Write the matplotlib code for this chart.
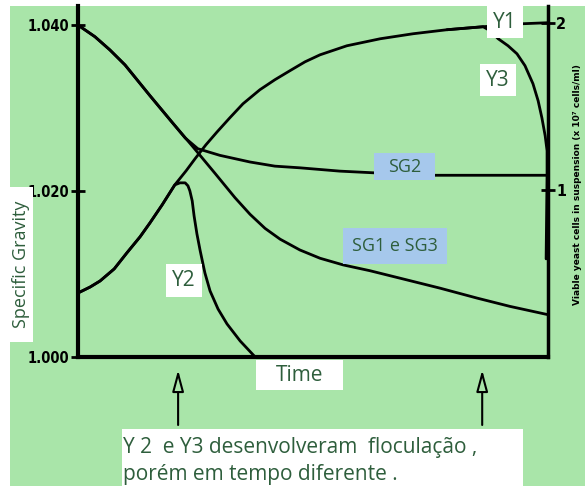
import matplotlib
matplotlib.use("Agg")
import matplotlib.pyplot as plt
from matplotlib.patches import Rectangle

# Time in arbitrary units (0-100), specific gravity on left, yeast cells on right
sg1_t = [0, 3.6, 6.8, 10.0, 15.3, 20.0, 24.5, 29.2, 33.4, 36.6, 39.8, 43.0, 47.2,
         51.5, 56.4, 62.1, 68.5, 77.0, 84.9, 91.9, 100]
sg1_v = [1.0400, 1.0386, 1.0370, 1.0352, 1.0315, 1.0283, 1.0253, 1.0221, 1.0192,
         1.0172, 1.0155, 1.0142, 1.0129, 1.0119, 1.0111, 1.0104, 1.0095, 1.0083,
         1.0071, 1.0061, 1.0051]

sg2_t = [0, 3.6, 6.8, 10.0, 15.3, 20.0, 22.8, 25.5, 30.2, 36.6, 41.9, 47.2, 55.7,
         62.8, 76.0, 100]
sg2_v = [1.0400, 1.0386, 1.0370, 1.0352, 1.0315, 1.0283, 1.0264, 1.0251, 1.0243,
         1.0235, 1.0230, 1.0228, 1.0224, 1.0222, 1.0219, 1.0219]

y1_t = [0, 2.6, 4.7, 7.7, 10.4, 13.2, 15.3, 17.9, 20.6, 23.0, 24.9, 27.2, 29.6,
        32.3, 35.1, 38.7, 41.9, 45.1, 48.3, 51.5, 57.2, 64.3, 71.3, 78.5, 86.2,
        94.7, 100]
y1_v = [0.383, 0.419, 0.455, 0.527, 0.623, 0.719, 0.802, 0.910, 1.030, 1.114,
        1.186, 1.269, 1.347, 1.431, 1.515, 1.599, 1.659, 1.713, 1.766, 1.808,
        1.862, 1.904, 1.934, 1.958, 1.976, 1.994, 2.000]

y2_t = [0, 2.6, 4.7, 7.7, 10.4, 13.2, 15.3, 17.9, 20.6, 21.7, 22.8, 23.4, 23.8,
        24.3, 24.7, 25.3, 26.0, 27.0, 28.1, 29.8, 31.7, 34.5, 37.7]
y2_v = [0.383, 0.419, 0.455, 0.527, 0.623, 0.719, 0.802, 0.910, 1.030, 1.042,
        1.042, 1.024, 0.994, 0.934, 0.844, 0.737, 0.635, 0.503, 0.395, 0.287,
        0.198, 0.096, 0.0]

y3_t = [78.5, 86.2, 87.7, 89.4, 91.5, 93.4, 95.1, 96.8, 97.9, 98.7, 99.4, 99.8,
        99.8, 99.6]
y3_v = [1.958, 1.976, 1.952, 1.904, 1.862, 1.814, 1.743, 1.635, 1.533, 1.431,
        1.323, 1.234, 1.096, 0.587]

sg_ticks = [1.000, 1.020, 1.040]
sg_labels = ["1.000", "1.020", "1.040"]
cell_ticks = [1, 2]
flocc_times = [21.3, 86.0]

GREEN = "#a9e5a9"
BLUE = "#a6c8ec"
TXT = "#2e5e3c"
W, H = 585, 486
FONT = ["Open Sans", "DejaVu Sans"]


def fx(x):
    return x / W


def fy(y):
    return 1 - y / H


fig = plt.figure(figsize=(W / 100, H / 100), dpi=100)
fig.patch.set_facecolor("white")
fig.add_artist(Rectangle((fx(10), 0), 1 - fx(10), fy(6), transform=fig.transFigure,
                         facecolor=GREEN, edgecolor="none", zorder=-5))

ax = fig.add_axes([fx(78), fy(357), fx(548) - fx(78), fy(6) - fy(357)])
ax.set_facecolor("none")
ax.set_xlim(0, 100)
ax.set_ylim(1.000, 1.0423)
ax2 = ax.twinx()
ax2.set_ylim(0, 2.10)

for s in ["top", "right"]:
    ax.spines[s].set_visible(False)
for s in ["top", "left", "bottom"]:
    ax2.spines[s].set_visible(False)
ax.spines["left"].set_linewidth(3)
ax.spines["bottom"].set_linewidth(3)
ax2.spines["right"].set_linewidth(2.5)

ax.set_xticks([])
ax.set_yticks(sg_ticks)
ax.set_yticklabels(sg_labels, fontsize=10.5, fontweight="bold", fontstretch="condensed")
ax.tick_params(axis="y", direction="inout", length=10, width=2, pad=1)
ax2.set_yticks(cell_ticks)
ax2.set_yticklabels([str(c) for c in cell_ticks], fontsize=11.5, fontweight="bold",
                    fontstretch="condensed")
ax2.tick_params(axis="y", direction="inout", length=10, width=2, pad=1)

style = dict(color="black", lw=2.0, clip_on=False, solid_joinstyle="round",
             solid_capstyle="round")
ax.plot(sg1_t, sg1_v, **style)
ax.plot(sg2_t, sg2_v, **style)
ax2.plot(y1_t, y1_v, **style)
ax2.plot(y2_t, y2_v, **style)
ax2.plot(y3_t, y3_v, **style)

# arrows marking flocculation times
for t in flocc_times:
    ax.annotate("", xy=(t, H - 370), xytext=(t, H - 425),
                xycoords=("data", "figure pixels"), textcoords=("data", "figure pixels"),
                arrowprops=dict(arrowstyle="-|>,head_length=1.3,head_width=0.35",
                                fc=GREEN, ec="black", lw=1.5, mutation_scale=10,
                                shrinkA=0, shrinkB=0),
                annotation_clip=False)


def box_label(x0, y0, x1, y1, text, color="white", size=15, rot=0):
    fig.add_artist(Rectangle((fx(x0), fy(y1)), fx(x1) - fx(x0), fy(y0) - fy(y1),
                             transform=fig.transFigure, facecolor=color,
                             edgecolor="none", zorder=2))
    fig.text(fx((x0 + x1) / 2), fy((y0 + y1) / 2), text, ha="center", va="center",
             fontsize=size, color=TXT, family=FONT, rotation=rot, zorder=3)


box_label(487, 6, 523, 38, "Y1")
box_label(480, 64, 516, 96, "Y3")
box_label(166, 264, 202, 297, "Y2")
box_label(374, 153, 435, 180, "SG2", color=BLUE, size=13)
box_label(343, 228, 447, 264, "SG1 e SG3", color=BLUE, size=13)
box_label(256, 360, 343, 390, "Time")
box_label(10, 187, 33, 342, "Specific Gravity", size=13, rot=90)

fig.add_artist(Rectangle((fx(122), 0), fx(523) - fx(122), fy(429),
                         transform=fig.transFigure, facecolor="white",
                         edgecolor="none", zorder=2))
fig.text(fx(123), fy(453), "Y 2  e Y3 desenvolveram  floculação ,", fontsize=15,
         color=TXT, family=FONT, va="baseline", zorder=3)
fig.text(fx(123), fy(480), "porém em tempo diferente .", fontsize=15,
         color=TXT, family=FONT, va="baseline", zorder=3)

fig.text(fx(578), fy(185), "Viable yeast cells in suspension (x 10⁷ cells/ml)",
         rotation=90, ha="center", va="center", fontsize=6.5, fontweight="bold")

fig.savefig("out.png", dpi=100)
